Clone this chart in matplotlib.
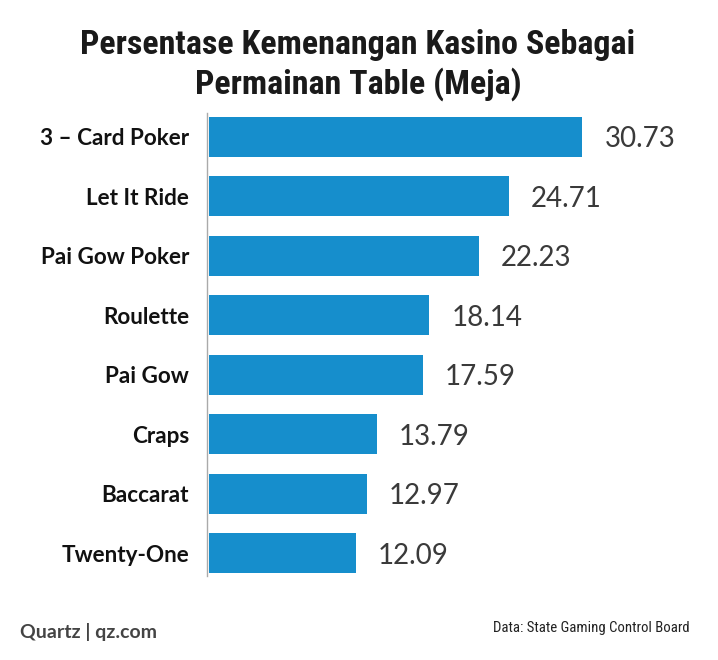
import matplotlib
matplotlib.use("Agg")
import matplotlib.pyplot as plt
from matplotlib import font_manager as fm

categories = ["3 – Card Poker", "Let It Ride", "Pai Gow Poker", "Roulette",
              "Pai Gow", "Craps", "Baccarat", "Twenty-One"]
values = [30.73, 24.71, 22.23, 18.14, 17.59, 13.79, 12.97, 12.09]
value_labels = ["30.73", "24.71", "22.23", "18.14", "17.59", "13.79", "12.97", "12.09"]

title = "Persentase Kemenangan Kasino Sebagai\nPermainan Table (Meja)"
footer_left = "Quartz | qz.com"
footer_right = "Data: State Gaming Control Board"

available = {f.name for f in fm.fontManager.ttflist}

def pick(*names):
    for n in names:
        if n in available:
            return n
    return "DejaVu Sans"

condensed = pick("Roboto Condensed", "Open Sans Condensed", "Liberation Sans Narrow", "Lato")
label_font = pick("Lato", "Open Sans", "DejaVu Sans")
value_font = pick("Lato", "Open Sans", "DejaVu Sans")

W, H = 718, 660
fig = plt.figure(figsize=(W / 100, H / 100), dpi=100)
fig.patch.set_facecolor("white")

ax_left, ax_right = 207, 700
ax_top, ax_bot = 113, 576
ax = fig.add_axes([ax_left / W, 1 - ax_bot / H, (ax_right - ax_left) / W, (ax_bot - ax_top) / H])

px_per_unit = (584 - 209) / 30.73
xmax = (ax_right - ax_left) / px_per_unit

y = list(range(len(categories)))
ax.barh(y, values, height=0.67, color="#168ecc", left=0)
ax.set_xlim(-2 / px_per_unit, xmax)
ax.set_ylim(7.38, -0.4)

for yi, v, lab in zip(y, values, value_labels):
    ax.text(v + 22 / px_per_unit, yi + 0.04, lab, va="center", ha="left",
            fontsize=20, color="#3a3a3a", family=value_font)

ax.set_yticks(y)
ax.set_yticklabels(categories, fontsize=16.2, fontweight="bold", family=label_font, color="#111111")
ax.tick_params(axis="y", length=0, pad=13)
ax.set_xticks([])
for s in ["top", "right", "bottom"]:
    ax.spines[s].set_visible(False)
ax.spines["left"].set_color("#aaaaaa")
ax.spines["left"].set_linewidth(1)

fig.text(358 / W, 1 - 65 / H, title, ha="center", va="center", fontsize=24.5,
         fontweight="bold", family=condensed, color="#1a1a1a", linespacing=1.22)

fig.text(20 / W, 1 - 632 / H, footer_left, ha="left", va="center", fontsize=14,
         fontweight="bold", family=label_font, color="#444444")
fig.text(690 / W, 1 - 628 / H, footer_right, ha="right", va="center", fontsize=10.6,
         family=condensed, color="#222222")

fig.savefig("out.png", dpi=100, facecolor="white")
